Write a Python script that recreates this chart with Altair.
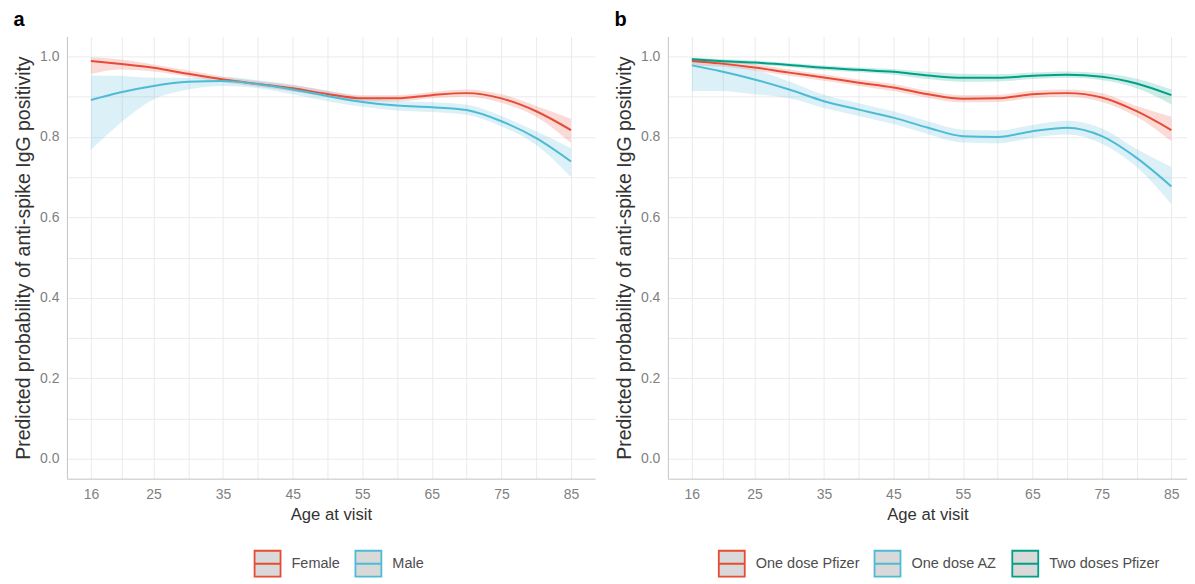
import altair as alt
import pandas as pd

# ---------------- data ----------------
ages = [16, 20, 25, 30, 35, 40, 45, 50, 55, 60, 65, 70, 75, 80, 85]

# Panel a: sex
female_fit = [0.989, 0.982, 0.972, 0.957, 0.943, 0.932, 0.921, 0.907, 0.896, 0.896, 0.904, 0.909, 0.896, 0.864, 0.817]
female_lo  = [0.956, 0.968, 0.963, 0.950, 0.936, 0.925, 0.913, 0.899, 0.888, 0.888, 0.896, 0.900, 0.885, 0.850, 0.785]
female_hi  = [0.998, 0.993, 0.980, 0.965, 0.950, 0.939, 0.929, 0.915, 0.904, 0.904, 0.912, 0.918, 0.906, 0.877, 0.845]
male_fit   = [0.892, 0.910, 0.927, 0.937, 0.939, 0.931, 0.918, 0.902, 0.887, 0.878, 0.874, 0.867, 0.839, 0.797, 0.739]
male_lo    = [0.768, 0.831, 0.893, 0.918, 0.927, 0.921, 0.906, 0.889, 0.875, 0.866, 0.862, 0.855, 0.826, 0.780, 0.700]
male_hi    = [0.953, 0.952, 0.947, 0.947, 0.950, 0.941, 0.930, 0.915, 0.899, 0.890, 0.886, 0.880, 0.852, 0.814, 0.772]

# Panel b: vaccine
pf1_fit = [0.989, 0.983, 0.973, 0.960, 0.948, 0.935, 0.923, 0.906, 0.895, 0.896, 0.906, 0.909, 0.898, 0.864, 0.817]
pf1_lo  = [0.978, 0.975, 0.965, 0.952, 0.940, 0.927, 0.914, 0.897, 0.886, 0.887, 0.897, 0.900, 0.887, 0.850, 0.789]
pf1_hi  = [0.997, 0.991, 0.981, 0.968, 0.956, 0.943, 0.932, 0.915, 0.904, 0.905, 0.915, 0.918, 0.909, 0.877, 0.850]
az1_fit = [0.978, 0.964, 0.943, 0.918, 0.889, 0.868, 0.848, 0.823, 0.802, 0.800, 0.814, 0.823, 0.802, 0.748, 0.677]
az1_lo  = [0.914, 0.914, 0.906, 0.896, 0.872, 0.852, 0.832, 0.807, 0.786, 0.784, 0.798, 0.806, 0.783, 0.725, 0.633]
az1_hi  = [0.993, 0.985, 0.968, 0.938, 0.905, 0.884, 0.864, 0.839, 0.818, 0.816, 0.830, 0.840, 0.821, 0.770, 0.725]
pf2_fit = [0.993, 0.989, 0.985, 0.979, 0.972, 0.967, 0.962, 0.953, 0.947, 0.947, 0.952, 0.955, 0.950, 0.933, 0.904]
pf2_lo  = [0.988, 0.984, 0.980, 0.974, 0.966, 0.961, 0.955, 0.944, 0.937, 0.938, 0.944, 0.947, 0.941, 0.921, 0.881]
pf2_hi  = [0.997, 0.994, 0.990, 0.984, 0.978, 0.973, 0.969, 0.962, 0.957, 0.956, 0.960, 0.963, 0.959, 0.945, 0.918]

sex_groups = ["Female", "Male"]
sex_colors = ["#E64B35", "#4DBBD5"]
vac_groups = ["One dose Pfizer", "One dose AZ", "Two doses Pfizer"]
vac_colors = ["#E64B35", "#4DBBD5", "#00A087"]

x_tick_labels = [16, 25, 35, 45, 55, 65, 75, 85]
x_grid = [16, 20.5, 25, 30, 35, 40, 45, 50, 55, 60, 65, 70, 75, 80, 85]
y_grid = [0.0, 0.1, 0.2, 0.3, 0.4, 0.5, 0.6, 0.7, 0.8, 0.9, 1.0]


def to_long(series):
    rows = []
    for name, fit, lo, hi in series:
        for a, f, l, h in zip(ages, fit, lo, hi):
            rows.append({"age": a, "group": name, "fit": f, "lo": l, "hi": h})
    return pd.DataFrame(rows)


df_a = to_long([("Female", female_fit, female_lo, female_hi),
                ("Male", male_fit, male_lo, male_hi)])
df_b = to_long([("One dose Pfizer", pf1_fit, pf1_lo, pf1_hi),
                ("One dose AZ", az1_fit, az1_lo, az1_hi),
                ("Two doses Pfizer", pf2_fit, pf2_lo, pf2_hi)])

LEGEND_PATH = "M-1,-1H1V1H-1Z M-1,0H1"
YTITLE = "Predicted probability of anti-spike IgG positivity"


def panel(df, domain, colors, label, width, xmax, legend_x):
    xscale = alt.Scale(domain=[12.55, xmax], nice=False, zero=False)
    yscale = alt.Scale(domain=[-0.05, 1.05], nice=False, zero=False)
    xaxis = alt.Axis(
        values=x_grid,
        labelExpr="indexof(" + str(x_tick_labels) + ", datum.value) >= 0 ? datum.label : ''",
        title="Age at visit",
    )
    yaxis = alt.Axis(
        values=y_grid,
        labelExpr="(round(datum.value * 10) % 2 == 0) ? format(datum.value, '.1f') : ''",
        title=YTITLE,
    )
    cscale = alt.Scale(domain=domain, range=colors)
    base = alt.Chart(df)
    areas = []
    for g, c in zip(domain, colors):
        areas.append(
            base.transform_filter(alt.datum.group == g)
            .mark_area(opacity=0.2, interpolate="monotone", color=c)
            .encode(
                x=alt.X("age:Q", scale=xscale, axis=xaxis),
                y=alt.Y("lo:Q", scale=yscale, axis=yaxis),
                y2="hi:Q",
            )
        )
    line = base.mark_line(strokeWidth=2, interpolate="monotone").encode(
        x=alt.X("age:Q", scale=xscale, axis=xaxis),
        y=alt.Y("fit:Q", scale=yscale, axis=yaxis),
        color=alt.Color(
            "group:N",
            scale=cscale,
            legend=alt.Legend(
                title=None,
                orient="none",
                legendX=legend_x,
                legendY=514,
                direction="horizontal",
                symbolType=LEGEND_PATH,
                symbolSize=676,
                symbolFillColor="#D9D9D9",
                symbolStrokeWidth=1.8,
                labelFontSize=14.5,
                labelColor="#4D4D4D",
                labelOffset=10,
                columnPadding=11,
                padding=0,
            ),
        ),
    )
    return alt.layer(*areas, line).properties(
        width=width,
        height=443,
        title=alt.TitleParams(
            label, anchor="start", frame="bounds", fontSize=20,
            fontWeight="bold", color="#000000", offset=6, dx=0,
        ),
    )


pa = panel(df_a, sex_groups, sex_colors, "a", 529, 88.45, 187)
pb = panel(df_b, vac_groups, vac_colors, "b", 520, 87.25, 50)

chart = (
    alt.hconcat(pa, pb, spacing=19)
    .resolve_scale(color="independent")
    .properties(padding={"left": 5, "top": 2, "right": 0, "bottom": 0})
    .configure(font="Liberation Sans")
    .configure_view(stroke=None)
    .configure_axis(
        grid=True,
        gridColor="#EBEBEB",
        gridWidth=1,
        ticks=False,
        domain=True,
        domainColor="#C4C4C4",
        domainWidth=1,
        labelColor="#7F7F7F",
        labelFontSize=14,
        titleColor="#333333",
        titleFontWeight="normal",
    )
    .configure_axisX(labelPadding=9, titlePadding=5, titleFontSize=16.7)
    .configure_axisY(labelPadding=8, titlePadding=6, titleFontSize=19.5)
)

chart.save("out.html", embed_options={"renderer": "svg", "actions": False})
